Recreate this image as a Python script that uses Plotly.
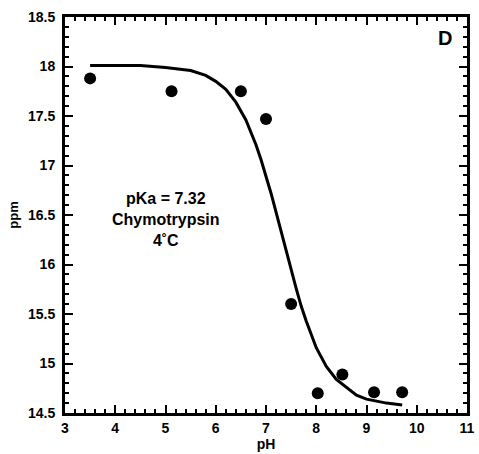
import plotly.graph_objects as go

# Measured data points
ph_points = [3.5, 5.12, 6.5, 7.0, 7.5, 8.03, 8.52, 9.15, 9.71]
ppm_points = [17.88, 17.75, 17.75, 17.47, 15.60, 14.70, 14.89, 14.71, 14.71]

# Fitted titration curve
ph_curve = [3.5, 4.5, 5.0, 5.5, 5.8, 6.0, 6.2, 6.4, 6.6, 6.8, 6.9, 7.0, 7.1, 7.2, 7.3,
            7.4, 7.5, 7.6, 7.7, 7.8, 8.0, 8.2, 8.4, 8.6, 8.8, 9.0, 9.4, 9.71]
ppm_curve = [18.01, 18.01, 17.99, 17.96, 17.91, 17.85, 17.77, 17.64, 17.46, 17.21, 17.06,
             16.90, 16.72, 16.53, 16.33, 16.13, 15.94, 15.76, 15.58, 15.43, 15.16, 14.97,
             14.84, 14.76, 14.68, 14.64, 14.60, 14.58]

x_range = [3, 11]
y_range = [14.5, 18.5]
x_ticks = [3, 4, 5, 6, 7, 8, 9, 10, 11]
y_ticks = [14.5, 15, 15.5, 16, 16.5, 17, 17.5, 18, 18.5]
y_tick_labels = ["14.5", "15", "15.5", "16", "16.5", "17", "17.5", "18", "18.5"]

FONT = "Liberation Sans, Arial, sans-serif"

fig = go.Figure()
fig.add_trace(go.Scatter(x=ph_curve, y=ppm_curve, mode="lines",
                         line=dict(color="black", width=3, shape="linear"),
                         showlegend=False, hoverinfo="skip"))
fig.add_trace(go.Scatter(x=ph_points, y=ppm_points, mode="markers",
                         marker=dict(color="black", size=12),
                         showlegend=False))

axis_common = dict(
    showline=True, linecolor="black", linewidth=3, mirror="allticks",
    ticks="inside", ticklen=8, tickwidth=2, tickcolor="black",
    showgrid=False, zeroline=False, automargin=False,
    tickfont=dict(family=FONT, size=14, color="black", weight="bold"),
)

fig.update_xaxes(range=x_range, tickvals=x_ticks,
                 ticktext=["<b>%s</b>" % t for t in x_ticks],
                 ticklabelstandoff=0,
                 minor=dict(dtick=0.2, tick0=3, ticks="inside", ticklen=4, tickwidth=2,
                            tickcolor="black", showgrid=False),
                 title=dict(text="<b>pH</b>", font=dict(family=FONT, size=14, color="black",
                                                        weight="bold"),
                            standoff=4),
                 **axis_common)
fig.update_yaxes(range=y_range, tickvals=y_ticks,
                 ticktext=["<b>%s</b>" % t for t in y_tick_labels],
                 ticklabelstandoff=4,
                 minor=dict(dtick=0.1, tick0=14.5, ticks="inside", ticklen=4, tickwidth=2,
                            tickcolor="black", showgrid=False),
                 title=dict(text="<b>ppm</b>", font=dict(family=FONT, size=13, color="black",
                                                         weight="bold"),
                            standoff=7),
                 **axis_common)

fig.add_annotation(x=5.01, y=16.45, text="pKa = 7.32<br>Chymotrypsin<br>4˚C",
                   showarrow=False, align="center",
                   font=dict(family=FONT, size=16, color="black", weight="bold"),
                   xanchor="center", yanchor="middle")
fig.add_annotation(x=10.56, y=18.29, text="D", showarrow=False,
                   font=dict(family=FONT, size=20, color="black", weight="bold"),
                   xanchor="center", yanchor="middle")

fig.update_layout(
    width=479, height=454,
    margin=dict(l=65, r=12, t=17, b=41),
    paper_bgcolor="white", plot_bgcolor="white",
    font=dict(family=FONT, color="black"),
)

fig.write_html("out.html")
